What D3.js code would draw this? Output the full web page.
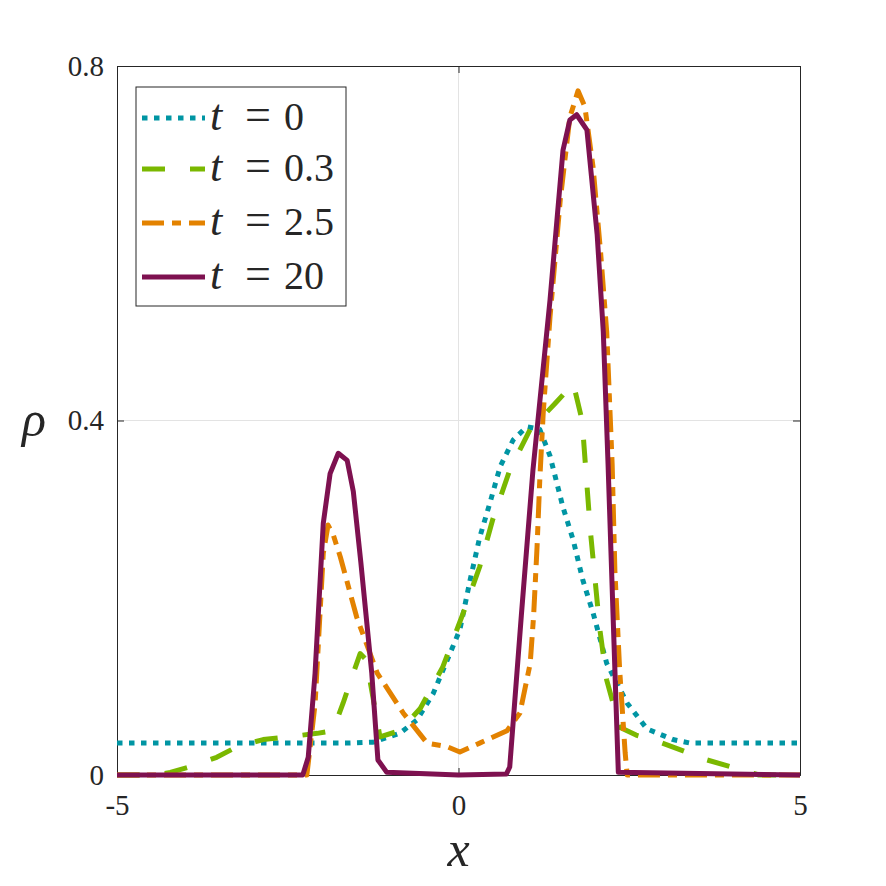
<!DOCTYPE html>
<html>
<head>
<meta charset="utf-8">
<script src="https://cdn.jsdelivr.net/npm/d3@7"></script>
<style>
  body { margin: 0; background: #fff; }
</style>
</head>
<body>
<div id="chart"></div>
<script>
// values
var xTicks = [-5, 0, 5];
var yTicks = [0, 0.4, 0.8];
var labels = ["0", "0.3", "2.5", "20"];

// t = 0
var x0 = [-5, -3, -1.6, -1.25, -0.86, -0.61, -0.37, -0.12, 0.02, 0.17, 0.31, 0.46, 0.61, 0.8, 1.0, 1.19, 1.34, 1.53, 1.68, 1.82, 1.97, 2.17, 2.47, 2.76, 3.14, 3.39, 4, 5];
var rho0 = [0.036, 0.036, 0.036, 0.037, 0.047, 0.062, 0.092, 0.138, 0.164, 0.22, 0.268, 0.307, 0.348, 0.378, 0.393, 0.39, 0.36, 0.302, 0.265, 0.22, 0.183, 0.126, 0.081, 0.052, 0.04, 0.036, 0.036, 0.036];

// t = 0.3
var x1 = [-5, -4.4, -4.22, -3.9, -3.54, -3.24, -2.86, -2.5, -2.07, -1.84, -1.69, -1.54, -1.44, -1.35, -1.15, -0.86, -0.56, -0.23, 0.07, 0.31, 0.5, 0.75, 1.05, 1.4, 1.59, 1.68, 1.81, 1.93, 2.07, 2.17, 2.36, 2.6, 2.95, 3.3, 3.64, 4.27, 4.4, 5];
var rho1 = [0, 0, 0.003, 0.01, 0.02, 0.032, 0.04, 0.043, 0.047, 0.05, 0.081, 0.115, 0.137, 0.13, 0.043, 0.05, 0.075, 0.122, 0.183, 0.235, 0.288, 0.344, 0.39, 0.418, 0.434, 0.442, 0.4, 0.276, 0.164, 0.107, 0.054, 0.045, 0.037, 0.027, 0.017, 0.003, 0, 0];

// t = 2.5
var x2 = [-5, -2.22, -2.1, -1.98, -1.91, -1.83, -1.73, -1.49, -1.19, -0.81, -0.46, -0.17, 0.02, 0.31, 0.71, 0.9, 1.05, 1.1, 1.15, 1.19, 1.24, 1.34, 1.49, 1.63, 1.75, 1.85, 1.97, 2.08, 2.17, 2.25, 2.29, 2.36, 2.44, 2.47, 5];
var rho2 = [0, 0, 0.08, 0.25, 0.282, 0.27, 0.246, 0.178, 0.115, 0.07, 0.036, 0.032, 0.026, 0.036, 0.05, 0.07, 0.126, 0.18, 0.257, 0.333, 0.408, 0.517, 0.649, 0.742, 0.772, 0.754, 0.686, 0.59, 0.5, 0.35, 0.23, 0.118, 0.025, 0, 0];

// t = 20
var x3 = [-5, -2.28, -2.2, -2.1, -1.98, -1.88, -1.76, -1.63, -1.54, -1.43, -1.27, -1.18, -1.05, 0, 0.7, 0.75, 0.92, 1.09, 1.34, 1.53, 1.63, 1.73, 1.88, 2.03, 2.12, 2.19, 2.29, 2.34, 5];
var rho3 = [0, 0, 0.02, 0.115, 0.284, 0.34, 0.363, 0.355, 0.32, 0.24, 0.115, 0.017, 0.003, 0, 0.001, 0.009, 0.18, 0.344, 0.536, 0.705, 0.739, 0.745, 0.728, 0.61, 0.5, 0.35, 0.118, 0.003, 0];

var series = [
  {xs: x0, ys: rho0, color: "#0095a3", dash: "5.5,6.5"},
  {xs: x1, ys: rho1, color: "#7ab800", dash: "23,25"},
  {xs: x2, ys: rho2, color: "#e38200", dash: "22,8,9,8"},
  {xs: x3, ys: rho3, color: "#7e1150", dash: null}
];

var serif = "'Liberation Serif', 'DejaVu Serif', serif";
var ink = "#262626";

var svgWidth = 886, svgHeight = 886;
// plot box
var plotLeft = 117, plotRight = 800, plotTop = 66, plotBottom = 775;

var svg = d3.select("#chart").append("svg")
  .attr("width", svgWidth)
  .attr("height", svgHeight);

var x = d3.scaleLinear().domain([-5, 5]).range([plotLeft, plotRight]);
var y = d3.scaleLinear().domain([0, 0.8]).range([plotBottom, plotTop]);

// grid lines (only the inner ones show)
svg.append("line")
  .attr("x1", x(0)).attr("x2", x(0))
  .attr("y1", plotTop).attr("y2", plotBottom)
  .attr("stroke", "#e3e3e3").attr("stroke-width", 1);
svg.append("line")
  .attr("x1", plotLeft).attr("x2", plotRight)
  .attr("y1", y(0.4)).attr("y2", y(0.4))
  .attr("stroke", "#e3e3e3").attr("stroke-width", 1);

function styleAxis(g) {
  g.select(".domain").attr("stroke", ink);
  g.selectAll(".tick line").attr("stroke", ink);
  g.selectAll("text")
    .style("font-family", serif)
    .style("font-size", "29px")
    .style("fill", ink);
}

// axes, ticks pointing inward
svg.append("g")
  .attr("transform", "translate(0," + plotBottom + ")")
  .call(d3.axisBottom(x).tickValues(xTicks).tickSize(-7).tickPadding(19)
    .tickFormat(function(d) { return String(d); }))
  .call(styleAxis);

svg.append("g")
  .attr("transform", "translate(" + plotLeft + ",0)")
  .call(d3.axisLeft(y).tickValues(yTicks).tickSize(-7).tickPadding(13)
    .tickFormat(function(d) { return d === 0 ? "0" : d3.format(".1f")(d); }))
  .call(styleAxis);

// top and right box edges with ticks
svg.append("g")
  .attr("transform", "translate(0," + plotTop + ")")
  .call(d3.axisTop(x).tickValues(xTicks).tickSize(-7).tickFormat(""))
  .call(styleAxis);
svg.append("g")
  .attr("transform", "translate(" + plotRight + ",0)")
  .call(d3.axisRight(y).tickValues(yTicks).tickSize(-7).tickFormat(""))
  .call(styleAxis);

// curves
series.forEach(function(s) {
  var pts = s.xs.map(function(v, i) { return [v, s.ys[i]]; });
  var line = d3.line()
    .x(function(d) { return x(d[0]); })
    .y(function(d) { return y(d[1]); });
  svg.append("path")
    .datum(pts)
    .attr("fill", "none")
    .attr("stroke", s.color)
    .attr("stroke-width", 5)
    .attr("stroke-linejoin", "round")
    .attr("stroke-dasharray", s.dash)
    .attr("d", line);
});

function addText(parent, px, py, size, italic, anchor, str) {
  return parent.append("text")
    .attr("x", px).attr("y", py)
    .attr("text-anchor", anchor)
    .style("font-family", serif)
    .style("font-size", size + "px")
    .style("font-style", italic ? "italic" : "normal")
    .style("fill", ink)
    .text(str);
}

// axis labels
addText(svg, x(0), 866, 50, true, "middle", "x");
addText(svg, 34, 436, 50, true, "middle", "ρ");

// legend
var legend = svg.append("g");
legend.append("rect")
  .attr("x", 136).attr("y", 87)
  .attr("width", 210).attr("height", 219)
  .attr("fill", "#fff").attr("stroke", ink).attr("stroke-width", 1);

var rowY = [118, 169, 223, 277];
series.forEach(function(s, i) {
  legend.append("line")
    .attr("x1", 142).attr("x2", 205)
    .attr("y1", rowY[i]).attr("y2", rowY[i])
    .attr("stroke", s.color).attr("stroke-width", 5)
    .attr("stroke-dasharray", s.dash);
  var base = rowY[i] + 12;
  addText(legend, 210, base, 44, true, "start", "t");
  addText(legend, 258, base, 46, false, "middle", "=");
  addText(legend, 284, base, 40, false, "start", labels[i]);
});
</script>
</body>
</html>
